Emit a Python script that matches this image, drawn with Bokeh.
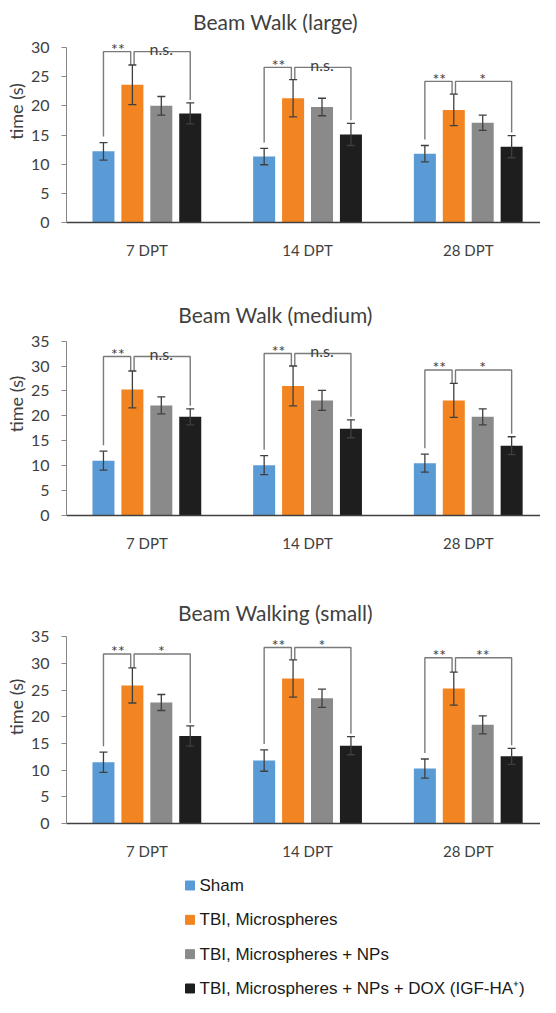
import numpy as np
from bokeh.plotting import figure
from bokeh.models import ColumnDataSource, Range1d, FixedTicker, Whisker, TeeHead
from bokeh.layouts import column
from bokeh.embed import file_html
from bokeh.resources import INLINE
from bokeh.core.properties import value

# ---------------- data ----------------
categories = ["7 DPT", "14 DPT", "28 DPT"]
groups = ["Sham", "TBI, Microspheres", "TBI, Microspheres + NPs",
          "TBI, Microspheres + NPs + DOX (IGF-HA\u207A)"]
colors = ["#5B9BD5", "#F28522", "#8A8A8A", "#1E1E1E"]

titles = ["Beam Walk (large)", "Beam Walk (medium)", "Beam Walking (small)"]

# Beam Walk (large)
large_sham = [12.2, 11.3, 11.8]
large_sham_err = [1.5, 1.4, 1.4]
large_tbi = [23.6, 21.3, 19.3]
large_tbi_err = [3.4, 3.2, 2.7]
large_nps = [20.0, 19.8, 17.1]
large_nps_err = [1.6, 1.5, 1.3]
large_dox = [18.7, 15.1, 13.0]
large_dox_err = [1.8, 1.9, 1.9]
large_bracket = [29.3, 26.6, 24.2]
large_sig_left = ["**", "**", "**"]
large_sig_right = ["n.s.", "n.s.", "*"]
large_yticks = [0, 5, 10, 15, 20, 25, 30]

# Beam Walk (medium)
medium_sham = [11.0, 10.1, 10.5]
medium_sham_err = [1.9, 1.9, 1.8]
medium_tbi = [25.3, 26.0, 23.1]
medium_tbi_err = [3.7, 4.0, 3.4]
medium_nps = [22.1, 23.1, 19.8]
medium_nps_err = [1.7, 2.0, 1.6]
medium_dox = [19.8, 17.4, 14.0]
medium_dox_err = [1.6, 1.8, 1.8]
medium_bracket = [31.9, 32.5, 29.2]
medium_sig_left = ["**", "**", "**"]
medium_sig_right = ["n.s.", "n.s.", "*"]
medium_yticks = [0, 5, 10, 15, 20, 25, 30, 35]

# Beam Walking (small)
small_sham = [11.5, 11.8, 10.3]
small_sham_err = [1.9, 2.0, 1.8]
small_tbi = [25.9, 27.2, 25.3]
small_tbi_err = [3.3, 3.5, 3.1]
small_nps = [22.7, 23.5, 18.5]
small_nps_err = [1.5, 1.7, 1.7]
small_dox = [16.4, 14.6, 12.6]
small_dox_err = [1.9, 1.7, 1.5]
small_bracket = [31.8, 33.0, 31.1]
small_sig_left = ["**", "**", "**"]
small_sig_right = ["*", "*", "**"]
small_yticks = [0, 5, 10, 15, 20, 25, 30, 35]

# layout of each panel (pixels): figure height, bottom border, px per unit,
# distance from the zero line up to the title baseline
panels = [
    dict(title=titles[0], means=[large_sham, large_tbi, large_nps, large_dox],
         errs=[large_sham_err, large_tbi_err, large_nps_err, large_dox_err],
         bracket=large_bracket, sig_left=large_sig_left, sig_right=large_sig_right,
         yticks=large_yticks, height=292, bottom=70, px_per_unit=5.833,
         title_rise=201.5),
    dict(title=titles[1], means=[medium_sham, medium_tbi, medium_nps, medium_dox],
         errs=[medium_sham_err, medium_tbi_err, medium_nps_err, medium_dox_err],
         bracket=medium_bracket, sig_left=medium_sig_left, sig_right=medium_sig_right,
         yticks=medium_yticks, height=298, bottom=75, px_per_unit=4.983,
         title_rise=201.0),
    dict(title=titles[2], means=[small_sham, small_tbi, small_nps, small_dox],
         errs=[small_sham_err, small_tbi_err, small_nps_err, small_dox_err],
         bracket=small_bracket, sig_left=small_sig_left, sig_right=small_sig_right,
         yticks=small_yticks, height=272, bottom=36, px_per_unit=5.4,
         title_rise=214.0),
]

# ---------------- style ----------------
W = 540
LEFT = 66
FONT = "Lato"
TXT = "#404040"
offsets = [-0.27, -0.09, 0.09, 0.27]
bar_w = 0.137
cat_px = 160.7
x_end = -0.5 + (W - LEFT) / cat_px
title_center_px = 275 - LEFT  # title centre, measured from the frame's left edge

figs = []
for pn in panels:
    frame_h = pn["height"] - pn["bottom"]
    ppu = pn["px_per_unit"]
    y_end = frame_h / ppu
    p = figure(width=W, height=pn["height"], x_range=Range1d(-0.5, x_end),
               y_range=Range1d(0, y_end), toolbar_location=None,
               output_backend="svg", min_border_left=LEFT, min_border_right=0,
               min_border_top=0, min_border_bottom=pn["bottom"])
    p.outline_line_color = None
    p.grid.visible = False

    # title (as text inside the frame area, above the axis bounds)
    p.text(x=[-0.5 + title_center_px / cat_px], y=[pn["title_rise"] / ppu],
           text=[pn["title"]], text_font=value(FONT), text_font_size="21px",
           text_align="center", text_baseline="alphabetic", text_color=TXT)

    xc = np.arange(len(categories))
    xs_bar = [xc + o for o in offsets]
    for k in range(4):
        m = np.array(pn["means"][k])
        e = np.array(pn["errs"][k])
        src = ColumnDataSource(dict(x=xs_bar[k], top=m, upper=m + e, lower=m - e))
        p.vbar(x="x", top="top", bottom=0, width=bar_w, source=src,
               fill_color=colors[k], line_color=None)
        wk = Whisker(source=src, base="x", upper="upper", lower="lower",
                     line_color="#3f3f3f", line_width=1.3,
                     upper_head=TeeHead(size=8, line_color="#3f3f3f", line_width=1.3),
                     lower_head=TeeHead(size=8, line_color="#3f3f3f", line_width=1.3))
        wk.level = "overlay"
        p.add_layout(wk)

    # significance brackets
    d = 1.7 / cat_px
    sham_top = np.array(pn["means"][0]) + np.array(pn["errs"][0])
    tbi_top = np.array(pn["means"][1]) + np.array(pn["errs"][1])
    dox_top = np.array(pn["means"][3]) + np.array(pn["errs"][3])
    h = np.array(pn["bracket"])
    bxs, bys = [], []
    for i in range(len(categories)):
        x0, x1, x3 = xs_bar[0][i], xs_bar[1][i], xs_bar[3][i]
        bxs.append([x0, x0, x1 - d, x1 - d])
        bys.append([sham_top[i] + 6 / ppu, h[i], h[i], tbi_top[i]])
        bxs.append([x1 + d, x1 + d, x3, x3])
        bys.append([tbi_top[i], h[i], h[i], dox_top[i] + 3 / ppu])
    p.multi_line(xs=bxs, ys=bys, line_color="#7a7a7a", line_width=1.4)
    lab_x = np.concatenate([(xs_bar[0] + xs_bar[1]) / 2, (xs_bar[1] + xs_bar[3]) / 2])
    lab_y = np.concatenate([h, h])
    lab_t = list(pn["sig_left"]) + list(pn["sig_right"])
    p.text(x=lab_x, y=lab_y, text=lab_t, text_font=value(FONT), text_font_size="16px",
           text_align="center", text_baseline="alphabetic", y_offset=-3, text_color=TXT)

    # axes
    yax = p.yaxis[0]
    yax.bounds = (0, pn["yticks"][-1])
    yax.ticker = FixedTicker(ticks=pn["yticks"])
    yax.axis_line_color = "#868686"
    yax.axis_line_width = 1
    yax.major_tick_line_color = "#868686"
    yax.major_tick_out = 5
    yax.major_tick_in = 0
    yax.minor_tick_line_color = None
    yax.major_label_text_font = FONT
    yax.major_label_text_font_size = "16px"
    yax.major_label_text_color = TXT
    yax.major_label_standoff = 12
    yax.axis_label = "time (s)"
    yax.axis_label_text_font = FONT
    yax.axis_label_text_font_size = "18px"
    yax.axis_label_text_font_style = "normal"
    yax.axis_label_text_color = TXT
    yax.axis_label_standoff = 1

    xax = p.xaxis[0]
    xax.ticker = FixedTicker(ticks=list(range(len(categories))))
    xax.major_label_overrides = {i: c for i, c in enumerate(categories)}
    xax.axis_line_color = "#404040"
    xax.axis_line_width = 1.5
    xax.major_tick_line_color = None
    xax.minor_tick_line_color = None
    xax.major_label_text_font = FONT
    xax.major_label_text_font_size = "15px"
    xax.major_label_text_color = TXT
    xax.major_label_standoff = 12
    figs.append(p)

# ---------------- legend ----------------
# the column aligns this frame with the panels' frames, so x runs in figure pixels
LEG_H = 135
row_first = 23.0   # px from the top of the legend block to the first row
row_pitch = 34.33
lf = figure(width=W, height=LEG_H, x_range=Range1d(LEFT, W),
            y_range=Range1d((LEG_H - row_first) / row_pitch, -row_first / row_pitch),
            toolbar_location=None, output_backend="svg", min_border=0,
            min_border_left=LEFT, x_axis_location=None, y_axis_location=None)
lf.outline_line_color = None
lf.grid.visible = False
rows = list(range(len(groups)))
lsrc = ColumnDataSource(dict(row=rows, label=groups, color=colors))
lf.scatter(x=189.5, y="row", marker="square", size=9, fill_color="color",
           line_color="color", source=lsrc)
lf.text(x=199, y="row", text="label", source=lsrc, text_font=value("Liberation Sans"),
        text_font_size="17px", text_baseline="middle", text_align="left",
        text_color="#1a1a1a")
figs.append(lf)

layout = column(*figs, spacing=0)
open("out.html", "w").write(file_html(layout, INLINE))
